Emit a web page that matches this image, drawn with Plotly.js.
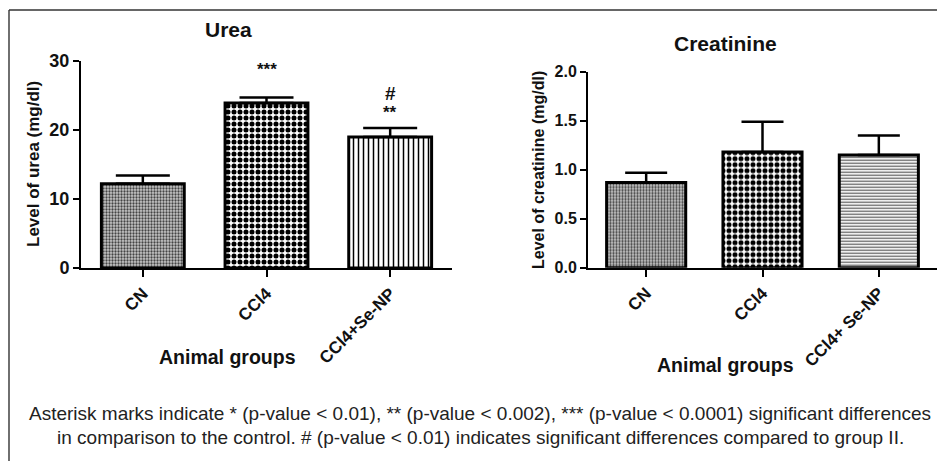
<!DOCTYPE html>
<html>
<head>
<meta charset="utf-8">
<script src="https://cdn.plot.ly/plotly-3.0.1.min.js"></script>
<style>html,body{margin:0;padding:0;background:#fff}#chart{width:937px;height:461px}</style>
</head>
<body>
<div id="chart"></div>
<script>
// ---- data ----
const ureaGroups = ["CN", "CCl4", "CCl4+Se-NP"];
const ureaMean = [12.2, 23.9, 19.0];
const ureaSem = [1.2, 0.8, 1.3];
const creatGroups = ["CN", "CCl4", "CCl4+ Se-NP"];
const creatMean = [0.87, 1.18, 1.15];
const creatSem = [0.10, 0.31, 0.20];
const ureaSig = [
  {group: "CCl4", y: 28.8, text: "***"},
  {group: "CCl4+Se-NP", y: 22.6, text: "**"},
  {group: "CCl4+Se-NP", y: 25.3, text: "#"}
];
const captionLines = [
  "Asterisk marks indicate * (p-value &lt; 0.01), ** (p-value &lt; 0.002), *** (p-value &lt; 0.0001) significant differences",
  "in comparison to the control. # (p-value &lt; 0.01) indicates significant differences compared to group II."
];

const W = 937, H = 461;
const px = v => v / W;
const py = v => 1 - v / H;
const FONT = "Liberation Sans, Arial, sans-serif";
const bold = (s) => ({family: FONT, size: s, color: "#111", weight: "bold"});

const ureaTrace = {
  type: "bar", x: ureaGroups, y: ureaMean, xaxis: "x", yaxis: "y", width: 0.67,
  marker: {
    color: "white",
    line: {color: "#000", width: 3},
    pattern: {shape: [".", ".", "|"], fgcolor: ["#444", "#000", "#000"], bgcolor: ["#c8c8c8", "#fff", "#fff"],
              size: [3, 6, 5], solidity: [0.45, 0.55, 0.3], fillmode: "replace"}
  },
  error_y: {type: "data", symmetric: false, array: ureaSem, arrayminus: [0, 0, 0], color: "#000", thickness: 2.5, width: 27},
  hoverinfo: "skip", showlegend: false
};
const creatTrace = {
  type: "bar", x: creatGroups, y: creatMean, xaxis: "x2", yaxis: "y2", width: 0.68,
  marker: {
    color: "white",
    line: {color: "#000", width: 3},
    pattern: {shape: [".", ".", "-"], fgcolor: ["#444", "#000", "#555"], bgcolor: ["#c8c8c8", "#fff", "#fff"],
              size: [3, 6, 3], solidity: [0.45, 0.55, 0.4], fillmode: "replace"}
  },
  error_y: {type: "data", symmetric: false, array: creatSem, arrayminus: [0, 0, 0], color: "#000", thickness: 2.5, width: 21},
  hoverinfo: "skip", showlegend: false
};

const xBase = {
  type: "category", range: [-0.5, 2.5], showline: true, linecolor: "#000", linewidth: 2,
  ticks: "outside", ticklen: 7, tickwidth: 2, tickcolor: "#000", tickangle: -45,
  tickfont: bold(17), showgrid: false, zeroline: false, fixedrange: true
};
const yBase = {
  showline: true, linecolor: "#000", linewidth: 2, ticks: "outside", ticklen: 6, tickwidth: 2,
  tickcolor: "#000", tickfont: bold(18), showgrid: false, zeroline: false, fixedrange: true
};

const annotations = [
  {text: "Urea", x: px(228), y: py(30), font: bold(21)},
  {text: "Creatinine", x: px(725), y: py(43), font: bold(21)},
  {text: "Level of urea (mg/dl)", x: px(33), y: py(164), textangle: -90, font: bold(17)},
  {text: "Level of creatinine (mg/dl)", x: px(538), y: py(170), textangle: -90, font: bold(16)},
  {text: "Animal groups", x: px(227), y: py(357), font: bold(19.5)},
  {text: "Animal groups", x: px(725), y: py(365), font: bold(19.5)},
  {text: captionLines[0], x: px(480), y: py(413), font: {family: FONT, size: 19, color: "#222"}},
  {text: captionLines[1], x: px(480), y: py(437), font: {family: FONT, size: 19, color: "#222"}}
].map(a => Object.assign({xref: "paper", yref: "paper", showarrow: false, xanchor: "center", yanchor: "middle"}, a));

ureaSig.forEach(s => annotations.push({
  xref: "x", yref: "y", x: s.group, y: s.y, text: s.text, showarrow: false,
  xanchor: "center", yanchor: "middle", font: bold(s.text === "#" ? 19 : 17)
}));

const layout = {
  width: W, height: H, margin: {l: 0, r: 0, t: 0, b: 0},
  paper_bgcolor: "#fff", plot_bgcolor: "rgba(0,0,0,0)",
  xaxis: Object.assign({}, xBase, {domain: [px(81), px(452)], anchor: "y"}),
  yaxis: Object.assign({}, yBase, {domain: [1 - 268 / H, 1 - 61 / H], range: [0, 30], dtick: 10, anchor: "x"}),
  xaxis2: Object.assign({}, xBase, {domain: [px(588), 1], anchor: "y2"}),
  yaxis2: Object.assign({}, yBase, {domain: [1 - 267.7 / H, 1 - 71.7 / H], range: [0, 2], dtick: 0.5, tickformat: ".1f", anchor: "x2", tickfont: bold(16)}),
  annotations: annotations,
  shapes: [
    {type: "line", xref: "paper", yref: "paper", x0: px(9), x1: 1.01, y0: py(10), y1: py(10), line: {color: "#333", width: 1.4}},
    {type: "line", xref: "paper", yref: "paper", x0: px(9), x1: px(9), y0: py(10), y1: -0.01, line: {color: "#333", width: 1.4}}
  ]
};

Plotly.newPlot("chart", [ureaTrace, creatTrace], layout, {displayModeBar: false, staticPlot: true});
</script>
</body>
</html>
